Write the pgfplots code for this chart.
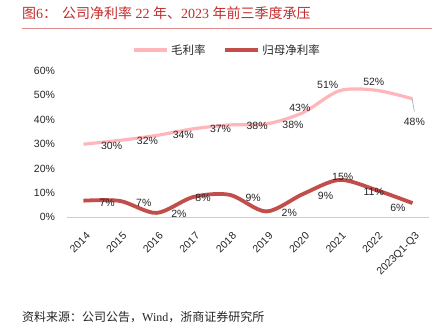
\documentclass[border=0pt]{standalone}
\usepackage{fontspec}
\usepackage{pgfplots}
\usepackage{pgfplotstable}
\pgfplotsset{compat=1.18}
\setmainfont{Liberation Sans}
\newfontfamily\cjk{Noto Sans CJK SC}
\newfontfamily\serif{Liberation Serif}
\definecolor{grossc}{RGB}{255,182,186}
\definecolor{netc}{RGB}{194,78,76}
\definecolor{titlered}{RGB}{196,44,44}
\definecolor{ruleline}{RGB}{226,140,140}
\definecolor{txt}{RGB}{38,38,38}
\pgfplotstableread{
x y
0 29.9
1 31.5
2 33.5
3 36.2
4 37.8
5 38.2
6 42.8
7 51.8
8 52.0
9 48.5
}\gross
\pgfplotstableread{
x y
0 6.8
1 6.7
2 1.8
3 8.3
4 9.2
5 2.4
6 9.5
7 15.3
8 11.2
9 5.8
}\net
\pgfplotstableread{
x y label
0.77 29.3 30\%
1.75 31.3 32\%
2.73 33.6 34\%
3.75 36.1 37\%
4.75 37.6 38\%
5.73 37.8 38\%
5.92 44.9 43\%
6.68 54.2 51\%
7.94 55.3 52\%
9.05 39.0 48\%
}\grosslab
\pgfplotstableread{
x y label
0.65 6.1 7\%
1.65 6.1 7\%
2.61 1.4 2\%
3.27 8.0 8\%
4.64 8.0 9\%
5.63 2.0 2\%
6.62 8.7 9\%
7.09 16.6 15\%
7.94 10.5 11\%
8.60 3.7 6\%
}\netlab
\begin{document}
\begin{tikzpicture}[x=1pt,y=1pt]
\fill[white] (0,0) rectangle (440,332);
\node[anchor=west, inner sep=0, text=titlered, font=\serif\fontsize{14}{16}\selectfont] at (22,318.7) {{\cjk 图}6{\cjk ：}};
\node[anchor=west, inner sep=0, text=titlered, font=\serif\fontsize{14}{16}\selectfont] at (62,318.7) {{\cjk 公司净利率} 22 {\cjk 年、}2023 {\cjk 年前三季度承压}};
\draw[ruleline, line width=0.8pt] (22,303.7) -- (432,303.7);
\begin{axis}[
  at={(67pt,114.7pt)}, anchor=south west,
  scale only axis, width=362pt, height=146.6pt,
  xmin=-0.45, xmax=9.45, ymin=0, ymax=60,
  clip=false,
  axis x line*=bottom, axis y line*=left,
  x axis line style={black!20, line width=0.8pt, -},
  y axis line style={draw=none, -},
  major tick length=0pt,
  xtick={0,...,9},
  xticklabels={2014,2015,2016,2017,2018,2019,2020,2021,2022,2023Q1-Q3},
  xticklabel style={xshift=2pt, yshift=-14pt, rotate=45, anchor=north east, inner sep=0pt, text=txt, font=\fontsize{10.5}{12}\selectfont},
  ytick={0,10,...,60},
  yticklabels={0\%,10\%,20\%,30\%,40\%,50\%,60\%},
  yticklabel style={xshift=-8.5pt, text=txt, font=\fontsize{10.5}{12}\selectfont},
  legend columns=2,
  legend style={at={(0.443,1.141)}, anchor=center, draw=none, fill=none,
    font=\cjk\fontsize{11.5}{13}\selectfont, text=txt,
    /tikz/every even column/.append style={column sep=16pt}},
  legend image code/.code={\draw[#1] (0pt,0pt) -- (33pt,0pt);},
  nodes near coords style={font=\fontsize{10.5}{12}\selectfont, text=txt, inner sep=0pt},
]
\addplot[grossc, line width=3.2pt, smooth, tension=0.5] table[x=x,y=y] {\gross};
\addlegendentry{毛利率}
\addplot[netc, line width=3.8pt, smooth, tension=0.5] table[x=x,y=y] {\net};
\addlegendentry{归母净利率}
\addplot[gray!70, line width=0.6pt, forget plot] coordinates {(8.99,48.4) (9.05,43.3)};
\addplot[draw=none, forget plot, nodes near coords, nodes near coords align=center, point meta=explicit symbolic] table[x=x,y=y,meta=label] {\grosslab};
\addplot[draw=none, forget plot, nodes near coords, nodes near coords align=center, point meta=explicit symbolic] table[x=x,y=y,meta=label] {\netlab};
\end{axis}
\node[anchor=west, inner sep=0, text=txt, font=\serif\fontsize{12}{14}\selectfont] at (22,15.3) {{\cjk 资料来源：公司公告，}Wind{\cjk ，浙商证券研究所}};
\end{tikzpicture}
\end{document}
